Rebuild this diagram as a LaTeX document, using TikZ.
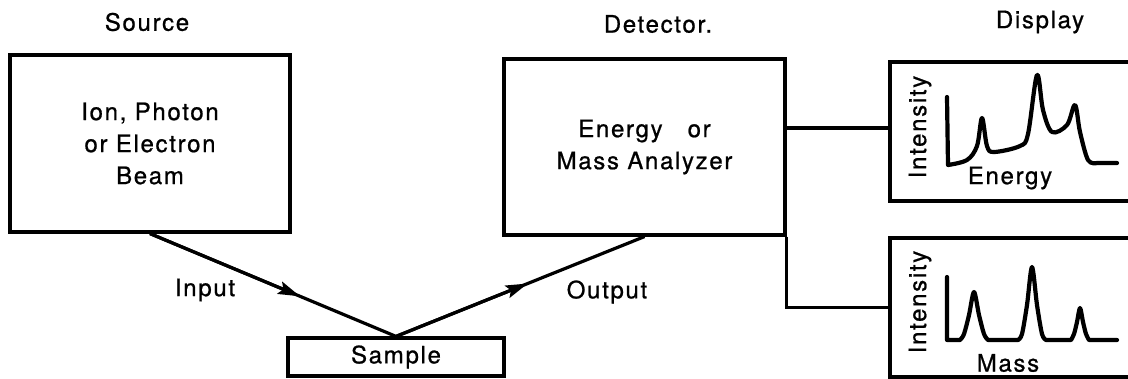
\documentclass[tikz,border=0pt]{standalone}
\usepackage{fontspec}
\setmainfont{TeX Gyre Heros}[LetterSpace=7,FakeBold=0.8]
\usepackage{tikz}
\usetikzlibrary{arrows.meta,positioning,calc}
\newcommand{\diagfont}{\fontsize{24}{32}\selectfont}

\tikzset{
    box/.style={draw,line width=3.2pt,align=center,font=\diagfont},
    lbl/.style={font=\diagfont,inner sep=0pt},
    wire/.style={line width=3.2pt},
    beamtip/.style={wire,-{Stealth[length=22pt,width=13pt,inset=4pt]}},
    spectrum/.style={line width=4.2pt,line join=round,line cap=round}
}

\begin{document}
\begin{tikzpicture}[x=1pt,y=-1pt]
    \useasboundingbox[fill=white] (0,0) rectangle (1128,378);
    \clip (0,0) rectangle (1128,378);

    % boxes
    \node[box,minimum width=280pt,minimum height=177pt] (source) at (150,143.5)
        {Ion, Photon\\or Electron\\Beam};
    \node[box,minimum width=281pt,minimum height=176pt] (detector) at (644.5,147)
        {Energy~~ or\\Mass Analyzer};
    \node[box,minimum width=216pt,minimum height=38pt,inner sep=0pt] (sample) at (396,357)
        {Sample};
    \node[box,minimum width=250pt,minimum height=139pt] (edisp) at (1015,131.5) {};
    \node[box,minimum width=250pt,minimum height=139pt] (mdisp) at (1015,307.5) {};

    % titles
    \node[lbl] (srctitle) at (147,22) {Source};
    \node[lbl] (dettitle) at (658,24) {Detector.};
    \node[lbl] (disptitle) at (1040,22) {Display};

    % beam in and out
    \draw[wire] (source.south) -- (sample.north) -- (detector.south);
    \draw[beamtip] (source.south) -- ($(source.south)!0.61!(sample.north)$);
    \draw[beamtip] (sample.north) -- ($(sample.north)!0.53!(detector.south)$);
    \node[lbl] (inlbl) at (205,290) {Input};
    \node[lbl] (outlbl) at (607,292) {Output};

    % detector to displays
    \draw[wire] (detector.east |- 0,128) coordinate (tap) -- (edisp.west |- tap);
    \draw[wire] (detector.south east) |- (mdisp.west);

    % energy spectrum
    \node[lbl,rotate=90] (eint) at (920,127) {Intensity};
    \node[lbl] (eaxis) at (1010,178) {Energy};
    \draw[spectrum] (947,97) -- plot[smooth,tension=0.55] coordinates {
        (948,165) (967,160) (977,146) (982,118) (987,146) (994,152)
        (1020,146) (1028,134) (1037,75) (1043,110) (1052,132) (1067,125)
        (1075,105) (1080,132) (1088,160) (1097,163)} -- (1117,163);

    % mass spectrum
    \node[lbl,rotate=90] (mint) at (920,302) {Intensity};
    \node[lbl] (maxis) at (1008,363) {Mass};
    \draw[spectrum] (947,277) -- (947,340) -- (960,340)
        -- plot[smooth,tension=0.5] coordinates {(960,340) (964,334) (969,315) (974,292)
            (979,315) (984,334) (988,340)} -- (1018,340)
        -- plot[smooth,tension=0.5] coordinates {(1018,340) (1022,334) (1027,305) (1032,267)
            (1037,305) (1042,334) (1046,340)} -- (1071,340)
        -- plot[smooth,tension=0.5] coordinates {(1071,340) (1074,334) (1077,322) (1080,308)
            (1083,322) (1086,334) (1089,340)} -- (1117,340);
\end{tikzpicture}
\end{document}
